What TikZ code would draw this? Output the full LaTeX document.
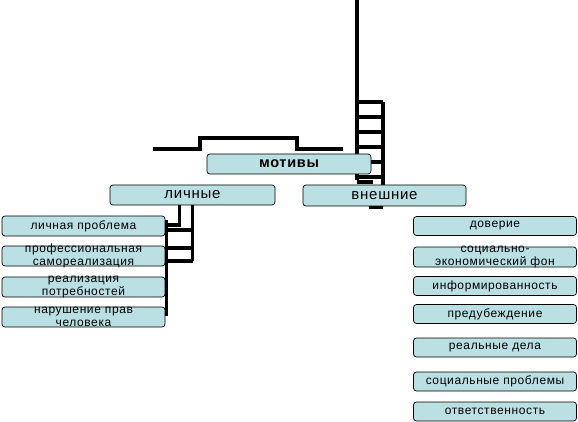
\documentclass[tikz,border=0pt]{standalone}
\usepackage{fontspec}
\setmainfont{Liberation Sans}[LetterSpace=5]
\definecolor{boxfill}{RGB}{187,224,228}

\begin{document}
\begin{tikzpicture}[
  x=1pt,
  y=-1pt,
  line join=miter,
  bar/.style={line width=3.5pt},
  box/.style={
    draw,
    line width=0.7pt,
    rounded corners=3pt,
    fill=boxfill,
    inner sep=0pt,
    minimum width=163pt,
    minimum height=19pt,
    font=\fontsize{12}{12.5}\selectfont
  },
  head/.style={box, minimum height=20pt, font=\fontsize{15}{16}\selectfont},
  txt/.style={inner sep=0pt, align=center, font=\fontsize{12}{12.5}\selectfont}
]
  \useasboundingbox (0,0) rectangle (578,422);

  \def\xl{83.5}
  \def\xr{495}

  % Лестница справа
  \draw[bar] (357,0)--(357,180);
  \draw[bar] (383,102)--(383,185);
  \foreach \y in {102,117,132,147,162,177}
    \draw[bar] (357,\y)--(383,\y);
  \draw[bar] (357,182)--(373,182);
  \draw[bar] (369,207)--(383,207);

  % Ступенька
  \draw[bar] (153,149)--(200,149)--(200,138)--(297,138)--(297,149)--(343,149);

  % Лестница слева
  \draw[bar] (179.5,205)--(179.5,225)--(165,225);
  \draw[bar] (192.5,205)--(192.5,261);
  \foreach \y in {230,248,261}
    \draw[bar] (165,\y)--(192.5,\y);

  % Блоки
  \node[head, minimum width=164pt, font=\fontsize{14.5}{15}\bfseries] (mot) at (289,164) {мотивы};
  \node[head, minimum width=165pt] (lich) at (192.5,195) {личные};
  \node[head, minimum height=21pt] (vnesh) at (384.5,195.5) {внешние};

  % Личные
  \node[box, minimum height=20pt] (lp) at (\xl,226) {личная проблема};
  \node[box, minimum height=20pt,
    label={[txt]center:{профессиональная\\самореализация}}] (psr) at (\xl,256) {};
  \node[box, minimum height=20pt,
    label={[txt]center:{реализация\\потребностей}}] (rp) at (\xl,287) {};
  \node[box, minimum height=20pt,
    label={[txt]center:{нарушение прав\\человека}}] (np) at (\xl,317) {};
  \draw[line width=3pt] (166,220)--(166,316);

  % Внешние
  \node[box] (dov) at (\xr,226) {доверие};
  \node[box, minimum height=20pt,
    label={[txt]center:{социально-\\экономический фон}}] (sef) at (\xr,257) {};
  \node[box] (inf) at (\xr,286) {информированность};
  \node[box] (pred) at (\xr,314) {предубеждение};
  \node[box] (rd) at (\xr,347.5) {реальные дела};
  \node[box] (sp) at (\xr,381.5) {социальные проблемы};
  \node[box] (otv) at (\xr,411.5) {ответственность};
\end{tikzpicture}
\end{document}
